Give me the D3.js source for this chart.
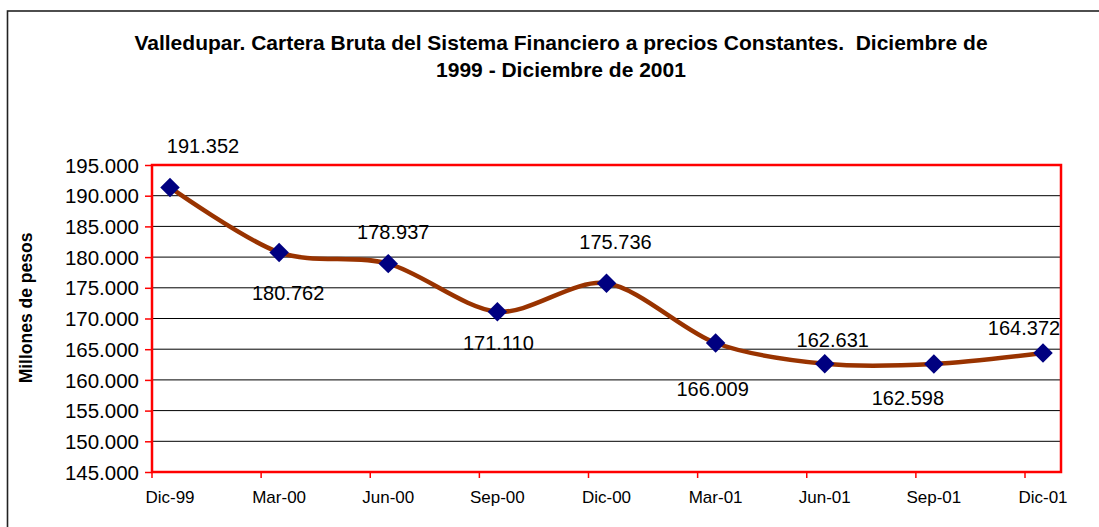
<!DOCTYPE html>
<html>
<head>
<meta charset="utf-8">
<script src="https://cdn.jsdelivr.net/npm/d3@7"></script>
<style>
  body { margin: 0; background: #fff; }
  svg text { font-family: Arial, "Liberation Sans", sans-serif; fill: #000; }
</style>
</head>
<body>
<svg id="viz"></svg>
<script>
// data
var categories = ['Dic-99', 'Mar-00', 'Jun-00', 'Sep-00', 'Dic-00', 'Mar-01', 'Jun-01', 'Sep-01', 'Dic-01'];
var values = [191352, 180762, 178937, 171110, 175736, 166009, 162631, 162598, 164372];
var yTicks = [145000, 150000, 155000, 160000, 165000, 170000, 175000, 180000, 185000, 190000, 195000];
var titleLines = ['Valledupar. Cartera Bruta del Sistema Financiero a precios Constantes.  Diciembre de',
                  '1999 - Diciembre de 2001'];
// where each data label sits relative to its marker (dx, dy of baseline)
var labelOffsets = [[33, -34], [9, 48], [5, -25], [1, 38], [9, -34], [-3, 53], [8, -17], [-26, 41], [-19, -18]];

var width = 1099, height = 527;
var plot = { left: 152, top: 165, right: 1061, bottom: 472 };

var svg = d3.select('#viz').attr('width', width).attr('height', height);

// outer chart border (only left/top visible)
svg.append('rect')
   .attr('x', 7.5).attr('y', 11)
   .attr('width', 1200).attr('height', 700)
   .attr('fill', 'none').attr('stroke', '#222').attr('stroke-width', 1.6);

// title
svg.append('g').selectAll('text')
   .data(titleLines)
   .enter().append('text')
   .attr('x', 561)
   .attr('y', (d, i) => 50 + i * 27)
   .attr('text-anchor', 'middle')
   .style('font-weight', 'bold')
   .style('font-size', '21px')
   .style('white-space', 'pre')
   .text(d => d);

// scales
var xScale = d3.scalePoint().domain(categories).range([170, 1043]);
var yScale = d3.scaleLinear().domain([145000, 195000]).range([plot.bottom, plot.top]);
var fmt = v => d3.format(',')(v).replace(/,/g, '.');

// gridlines
svg.append('g').selectAll('line')
   .data(yTicks.slice(1, -1))
   .enter().append('line')
   .attr('x1', plot.left).attr('x2', plot.right)
   .attr('y1', d => yScale(d)).attr('y2', d => yScale(d))
   .attr('stroke', '#000').attr('stroke-width', 1);

// y axis
var yAxis = d3.axisLeft(yScale).tickValues(yTicks).tickSize(7).tickPadding(6).tickFormat(fmt);
var yG = svg.append('g').attr('transform', `translate(${plot.left},0)`).call(yAxis);
yG.select('.domain').remove();
yG.selectAll('line').attr('stroke', '#f00').attr('stroke-width', 1.5);
yG.selectAll('text').style('font-size', '20.5px').style('font-family', 'Arial, "Liberation Sans", sans-serif').attr('dy', '0.35em');

// x axis: ticks sit a little left of each category point
var xG = svg.append('g').attr('transform', `translate(0,${plot.bottom})`);
xG.selectAll('line')
  .data(categories)
  .enter().append('line')
  .attr('x1', d => xScale(d) - 18).attr('x2', d => xScale(d) - 18)
  .attr('y1', 0).attr('y2', 6)
  .attr('stroke', '#f00').attr('stroke-width', 1.5);
xG.selectAll('text')
  .data(categories)
  .enter().append('text')
  .attr('x', d => xScale(d))
  .attr('y', 31)
  .attr('text-anchor', 'middle')
  .style('font-size', '17px')
  .text(d => d);

// plot border
svg.append('rect')
   .attr('x', plot.left).attr('y', plot.top)
   .attr('width', plot.right - plot.left).attr('height', plot.bottom - plot.top)
   .attr('fill', 'none').attr('stroke', '#f00').attr('stroke-width', 2.5);

// y axis title
svg.append('text')
   .attr('transform', 'translate(32,308) rotate(-90)')
   .attr('text-anchor', 'middle')
   .style('font-weight', 'bold')
   .style('font-size', '17.5px')
   .text('Millones de pesos');

// line
var pts = categories.map((c, i) => ({ c: c, v: values[i], i: i }));
var line = d3.line()
   .x(d => xScale(d.c))
   .y(d => yScale(d.v))
   .curve(d3.curveCardinal.tension(0.1));

svg.append('path')
   .datum(pts)
   .attr('d', line)
   .attr('fill', 'none')
   .attr('stroke', '#993300')
   .attr('stroke-width', 4.5)
   .attr('stroke-linecap', 'round');

// markers
svg.append('g').selectAll('path')
   .data(pts)
   .enter().append('path')
   .attr('d', d3.symbol(d3.symbolSquare, 190))
   .attr('transform', d => `translate(${xScale(d.c)},${yScale(d.v)}) rotate(45)`)
   .attr('fill', '#000080');

// data labels
svg.append('g').selectAll('text')
   .data(pts)
   .enter().append('text')
   .attr('x', d => xScale(d.c) + labelOffsets[d.i][0])
   .attr('y', d => yScale(d.v) + labelOffsets[d.i][1])
   .attr('text-anchor', 'middle')
   .style('font-size', '20px')
   .text(d => fmt(d.v));
</script>
</body>
</html>
